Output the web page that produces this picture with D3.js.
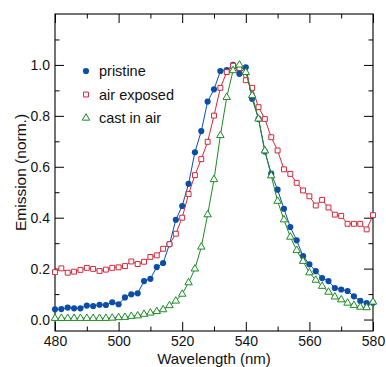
<!DOCTYPE html>
<html>
<head>
<meta charset="utf-8">
<script src="https://cdn.jsdelivr.net/npm/d3@7"></script>
<style>
  body { margin: 0; background: #fff; }
  svg { display: block; font-family: "Liberation Sans", Arial, sans-serif; }
</style>
</head>
<body>
<div id="chart"></div>
<script>
// wavelength (nm)
const wavelengths = [480, 482, 484, 486, 488, 490, 492, 494, 496, 498,
  500, 502, 504, 506, 508, 510, 512, 514, 516, 518,
  520, 522, 524, 526, 528, 530, 532, 534, 536, 538,
  540, 542, 544, 546, 548, 550, 552, 554, 556, 558,
  560, 562, 564, 566, 568, 570, 572, 574, 576, 578, 580];

const pristine = [0.040, 0.041, 0.047, 0.044, 0.044, 0.055, 0.053, 0.058, 0.057, 0.068,
  0.060, 0.087, 0.099, 0.103, 0.151, 0.160, 0.206, 0.222, 0.296, 0.392,
  0.446, 0.533, 0.657, 0.740, 0.856, 0.904, 0.976, 0.980, 1.000, 0.965,
  0.991, 0.867, 0.788, 0.660, 0.573, 0.510, 0.435, 0.363, 0.311, 0.249,
  0.217, 0.190, 0.163, 0.151, 0.124, 0.118, 0.112, 0.091, 0.073, 0.065, 0.066];

const airExposed = [0.186, 0.201, 0.184, 0.188, 0.195, 0.203, 0.199, 0.191, 0.196, 0.203,
  0.205, 0.210, 0.228, 0.218, 0.227, 0.246, 0.252, 0.278, 0.296, 0.337,
  0.400, 0.493, 0.567, 0.630, 0.698, 0.801, 0.910, 0.972, 0.997, 0.988,
  0.940, 0.910, 0.834, 0.788, 0.716, 0.664, 0.590, 0.572, 0.537, 0.507,
  0.484, 0.448, 0.470, 0.440, 0.412, 0.407, 0.376, 0.376, 0.376, 0.354, 0.410];

const castInAir = [0.005, 0.005, 0.005, 0.005, 0.005, 0.005, 0.005, 0.005, 0.005, 0.006,
  0.008, 0.009, 0.013, 0.015, 0.021, 0.026, 0.032, 0.039, 0.055, 0.073,
  0.100, 0.145, 0.199, 0.285, 0.412, 0.550, 0.723, 0.873, 0.978, 1.000,
  0.971, 0.880, 0.788, 0.663, 0.565, 0.465, 0.392, 0.324, 0.272, 0.229,
  0.184, 0.155, 0.131, 0.108, 0.089, 0.078, 0.065, 0.056, 0.049, 0.047, 0.069];

const seriesNames = ["pristine", "air exposed", "cast in air"];
const xTicks = [480, 500, 520, 540, 560, 580];
const xMinorTicks = [490, 510, 530, 550, 570];
const yTicks = [0.0, 0.2, 0.4, 0.6, 0.8, 1.0];
const yMinorTicks = [0.1, 0.3, 0.5, 0.7, 0.9, 1.1];

const width = 386, height = 367;
const margin = {top: 14, right: 13, bottom: 36, left: 55};

const series = [
  {name: seriesNames[0], values: pristine, color: "#0c4ea6", shape: "circle"},
  {name: seriesNames[1], values: airExposed, color: "#d3283a", shape: "square"},
  {name: seriesNames[2], values: castInAir, color: "#1d8a22", shape: "triangle"}
];

const svg = d3.select("#chart").append("svg")
  .attr("width", width)
  .attr("height", height);

const x = d3.scaleLinear().domain([480, 580]).range([margin.left, width - margin.right]);
const y = d3.scaleLinear().domain([-0.045, 1.2]).range([height - margin.bottom, margin.top]);

// AXES (ticks point inward on all four sides)
function styleAxis(g) {
  g.select(".domain").remove();
  g.selectAll(".tick line").attr("stroke", "#000").attr("stroke-width", 1);
  g.selectAll(".tick text").attr("fill", "#111").style("font-size", "14px");
}

const plotBottom = height - margin.bottom, plotTop = margin.top;
const plotLeft = margin.left, plotRight = width - margin.right;

svg.append("g").attr("transform", `translate(0,${plotBottom})`)
  .call(d3.axisBottom(x).tickValues(xTicks).tickSize(-9).tickPadding(5).tickFormat(d3.format("d")))
  .call(styleAxis);
svg.append("g").attr("transform", `translate(0,${plotBottom})`)
  .call(d3.axisBottom(x).tickValues(xMinorTicks).tickSize(-4.5).tickFormat(""))
  .call(styleAxis);
svg.append("g").attr("transform", `translate(0,${plotTop})`)
  .call(d3.axisTop(x).tickValues(xTicks).tickSize(-9).tickFormat(""))
  .call(styleAxis);
svg.append("g").attr("transform", `translate(0,${plotTop})`)
  .call(d3.axisTop(x).tickValues(xMinorTicks).tickSize(-4.5).tickFormat(""))
  .call(styleAxis);

svg.append("g").attr("transform", `translate(${plotLeft},0)`)
  .call(d3.axisLeft(y).tickValues(yTicks).tickSize(-9).tickPadding(5).tickFormat(d3.format(".1f")))
  .call(styleAxis);
svg.append("g").attr("transform", `translate(${plotLeft},0)`)
  .call(d3.axisLeft(y).tickValues(yMinorTicks).tickSize(-4.5).tickFormat(""))
  .call(styleAxis);
svg.append("g").attr("transform", `translate(${plotRight},0)`)
  .call(d3.axisRight(y).tickValues(yTicks).tickSize(-9).tickFormat(""))
  .call(styleAxis);
svg.append("g").attr("transform", `translate(${plotRight},0)`)
  .call(d3.axisRight(y).tickValues(yMinorTicks).tickSize(-4.5).tickFormat(""))
  .call(styleAxis);

// frame
svg.append("rect")
  .attr("x", plotLeft).attr("y", plotTop)
  .attr("width", plotRight - plotLeft).attr("height", plotBottom - plotTop)
  .attr("fill", "none").attr("stroke", "#000").attr("stroke-width", 1.1);

// TITLES
svg.append("text")
  .attr("x", (plotLeft + plotRight) / 2).attr("y", 363.5)
  .attr("text-anchor", "middle")
  .style("font-size", "15px").attr("fill", "#111")
  .text("Wavelength (nm)");

svg.append("text")
  .attr("transform", `translate(26,${(plotTop + plotBottom) / 2}) rotate(-90)`)
  .attr("text-anchor", "middle")
  .style("font-size", "15.5px").attr("fill", "#111")
  .text("Emission (norm.)");

// MARKERS
const symbols = {
  circle: d3.symbol().type(d3.symbolCircle).size(30),
  square: d3.symbol().type(d3.symbolSquare).size(24),
  triangle: d3.symbol().type(d3.symbolTriangle).size(24)
};

function drawMarker(sel, s) {
  sel.attr("d", symbols[s.shape]())
    .attr("fill", s.shape === "circle" ? s.color : "#fff")
    .attr("stroke", s.shape === "circle" ? "none" : s.color)
    .attr("stroke-width", 1);
}

const line = d3.line()
  .x((d, i) => x(wavelengths[i]))
  .y(d => y(d));

series.forEach(s => {
  const g = svg.append("g").attr("class", "series");
  g.append("path")
    .datum(s.values)
    .attr("d", line)
    .attr("fill", "none")
    .attr("stroke", s.color)
    .attr("stroke-width", 1);
  g.selectAll(".pt").data(s.values).enter().append("path")
    .attr("class", "pt")
    .attr("transform", (d, i) => `translate(${x(wavelengths[i])},${y(d)})`)
    .call(drawMarker, s);
});

// LEGEND
const legend = svg.append("g").attr("class", "legend")
  .selectAll("g").data(series).enter().append("g")
  .attr("transform", (d, i) => `translate(86,${71 + i * 23.5})`);

legend.append("path").each(function (d) { d3.select(this).call(drawMarker, d); });

legend.append("text")
  .attr("x", 13)
  .attr("dy", "0.35em")
  .style("font-size", "14.5px")
  .attr("fill", "#111")
  .text(d => d.name);
</script>
</body>
</html>
